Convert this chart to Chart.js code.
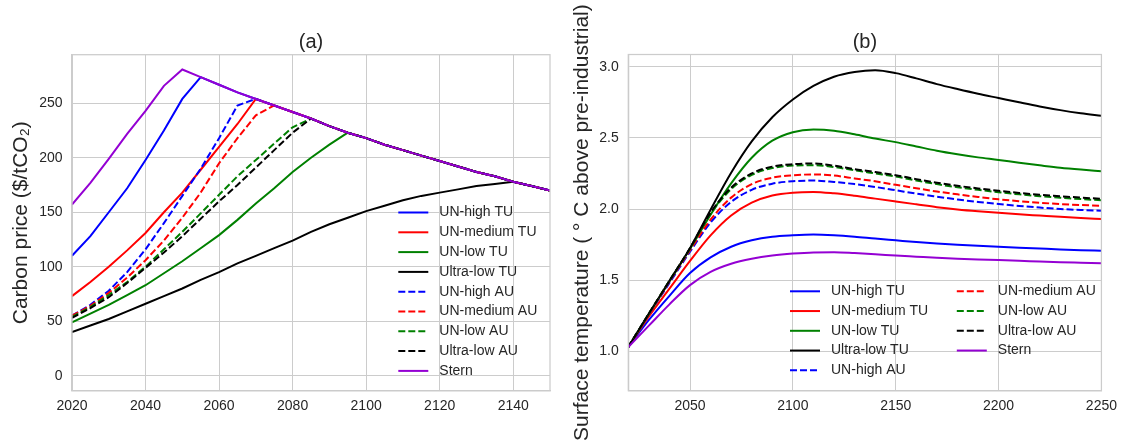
<!DOCTYPE html>
<html>
<head>
<meta charset="utf-8">
<script src="https://cdn.jsdelivr.net/npm/chart.js@4.4.1/dist/chart.umd.min.js"></script>
<style>
  body { margin: 0; background: #fff; }
  .box { position: absolute; top: 0; width: 562px; height: 440px; }
</style>
</head>
<body>
<div class="box" style="left:0"><canvas id="priceChart"></canvas></div>
<div class="box" style="left:562px"><canvas id="tempChart"></canvas></div>
<script>
// --- data (a): carbon price, 5-year steps ---
const yearsA = [2020, 2025, 2030, 2035, 2040, 2045, 2050, 2055, 2060, 2065, 2070, 2075, 2080, 2085,
                2090, 2095, 2100, 2105, 2110, 2115, 2120, 2125, 2130, 2135, 2140, 2145, 2150];
const sternA      = [157, 177, 199, 222, 243, 266, 281, 274, 267, 260, 254, 248, 242, 236, 229, 223, 218, 212, 207, 202, 197, 192, 187, 183, 178, 174, 170];
const unHighTuA   = [110, 128, 150, 172, 198, 225, 254, 274, 267, 260, 254, 248, 242, 236, 229, 223, 218, 212, 207, 202, 197, 192, 187, 183, 178, 174, 170];
const unMedTuA    = [73, 86, 100, 115, 131, 150, 168, 189, 210, 231, 254, 248, 242, 236, 229, 223, 218, 212, 207, 202, 197, 192, 187, 183, 178, 174, 170];
const unLowTuA    = [49, 57, 65, 74, 83, 94, 105, 117, 129, 143, 158, 172, 187, 200, 212, 223, 218, 212, 207, 202, 197, 192, 187, 183, 178, 174, 170];
const ultraLowTuA = [40, 46, 52, 59, 66, 73, 80, 88, 95, 103, 110, 117, 124, 132, 139, 145, 151, 156, 161, 165, 168, 171, 174, 176, 178, 174, 170];
const unHighAuA   = [55, 65, 78, 95, 116, 140, 165, 190, 218, 248, 254, 248, 242, 236, 229, 223, 218, 212, 207, 202, 197, 192, 187, 183, 178, 174, 170];
const unMedAuA    = [55, 64, 76, 90, 106, 124, 145, 168, 195, 218, 239, 248, 242, 236, 229, 223, 218, 212, 207, 202, 197, 192, 187, 183, 178, 174, 170];
const unLowAuA    = [54, 63, 74, 86, 100, 116, 132, 149, 166, 183, 198, 213, 228, 236, 229, 223, 218, 212, 207, 202, 197, 192, 187, 183, 178, 174, 170];
const ultraLowAuA = [53, 62, 72, 85, 99, 113, 128, 144, 160, 175, 191, 207, 223, 236, 229, 223, 218, 212, 207, 202, 197, 192, 187, 183, 178, 174, 170];

// --- data (b): surface temperature, 10-year steps ---
const yearsB = [2020, 2030, 2040, 2050, 2060, 2070, 2080, 2090, 2100, 2110, 2120, 2130,
                2140, 2150, 2160, 2170, 2180, 2190, 2200, 2210, 2220, 2230, 2240, 2250];
const unHighTuB   = [1.03, 1.22, 1.39, 1.55, 1.66, 1.735, 1.78, 1.805, 1.815, 1.82, 1.815, 1.805, 1.792, 1.78, 1.768, 1.757, 1.748, 1.741, 1.735, 1.728, 1.722, 1.716, 1.711, 1.707];
const unMedTuB    = [1.03, 1.245, 1.44, 1.635, 1.815, 1.955, 2.045, 2.095, 2.115, 2.12, 2.11, 2.093, 2.073, 2.053, 2.033, 2.013, 1.997, 1.984, 1.973, 1.963, 1.954, 1.945, 1.937, 1.93];
const unLowTuB    = [1.03, 1.26, 1.49, 1.72, 1.96, 2.18, 2.36, 2.48, 2.54, 2.558, 2.55, 2.525, 2.495, 2.47, 2.44, 2.41, 2.385, 2.363, 2.345, 2.325, 2.307, 2.29, 2.277, 2.266];
const ultraLowTuB = [1.03, 1.265, 1.495, 1.725, 1.995, 2.255, 2.475, 2.645, 2.77, 2.865, 2.93, 2.963, 2.975, 2.955, 2.918, 2.878, 2.843, 2.81, 2.78, 2.75, 2.721, 2.695, 2.673, 2.655];
const unHighAuB   = [1.03, 1.26, 1.48, 1.70, 1.905, 2.05, 2.135, 2.178, 2.195, 2.20, 2.19, 2.175, 2.155, 2.132, 2.108, 2.087, 2.067, 2.05, 2.035, 2.022, 2.01, 2.0, 1.993, 1.988];
const unMedAuB    = [1.03, 1.26, 1.49, 1.71, 1.925, 2.08, 2.175, 2.22, 2.237, 2.243, 2.235, 2.215, 2.195, 2.17, 2.146, 2.123, 2.103, 2.085, 2.068, 2.055, 2.044, 2.035, 2.028, 2.023];
const unLowAuB    = [1.03, 1.265, 1.495, 1.72, 1.965, 2.14, 2.24, 2.288, 2.305, 2.308, 2.295, 2.272, 2.25, 2.228, 2.20, 2.175, 2.153, 2.135, 2.118, 2.103, 2.09, 2.079, 2.07, 2.062];
const ultraLowAuB = [1.03, 1.265, 1.495, 1.725, 1.975, 2.15, 2.25, 2.298, 2.315, 2.32, 2.305, 2.28, 2.26, 2.238, 2.21, 2.185, 2.163, 2.145, 2.128, 2.113, 2.10, 2.09, 2.08, 2.072];
const sternB      = [1.03, 1.18, 1.33, 1.465, 1.558, 1.615, 1.65, 1.673, 1.687, 1.695, 1.696, 1.69, 1.682, 1.673, 1.665, 1.657, 1.65, 1.645, 1.641, 1.636, 1.631, 1.626, 1.622, 1.618];

const seriesNames = ['UN-high TU', 'UN-medium TU', 'UN-low TU', 'Ultra-low TU',
                     'UN-high AU', 'UN-medium AU', 'UN-low AU', 'Ultra-low AU', 'Stern'];
const seriesColors = ['#0000ff', '#ff0000', '#008000', '#000000',
                      '#0000ff', '#ff0000', '#008000', '#000000', '#9400d3'];
const seriesDashed = [false, false, false, false, true, true, true, true, false];

const gridColor = '#cccccc';
const textColor = '#262626';
const fontFamily = 'Arial, "Liberation Sans", sans-serif';
Chart.defaults.font.family = fontFamily;
Chart.defaults.color = textColor;

// build datasets, last one drawn on top like matplotlib
function makeDatasets(xs, lists, smooth) {
    return lists.map((ys, i) => ({
        label: seriesNames[i],
        data: xs.map((x, k) => ({ x: x, y: ys[k] })),
        borderColor: seriesColors[i],
        borderWidth: 2,
        borderDash: seriesDashed[i] ? [7, 3] : [],
        pointRadius: 0,
        fill: false,
        tension: 0,
        cubicInterpolationMode: smooth ? 'monotone' : 'default',
        order: lists.length - i
    }));
}

// frame round the plot area + panel title centred on the plot area
const framePlugin = {
    id: 'frame',
    afterDatasetsDraw(chart, args, opts) {
        const a = chart.chartArea;
        const ctx = chart.ctx;
        ctx.save();
        ctx.strokeStyle = gridColor;
        ctx.lineWidth = 1.25;
        ctx.strokeRect(a.left, a.top, a.right - a.left, a.bottom - a.top);
        ctx.fillStyle = textColor;
        ctx.font = '20px ' + fontFamily;
        ctx.textAlign = 'center';
        ctx.textBaseline = 'middle';
        ctx.fillText(opts.title, (a.left + a.right) / 2, 42);
        ctx.restore();
    }
};

// legend inside the plot, column after column
const innerLegend = {
    id: 'innerLegend',
    afterDraw(chart, args, opts) {
        const ctx = chart.ctx;
        ctx.save();
        ctx.font = '14px ' + fontFamily;
        ctx.textBaseline = 'middle';
        ctx.textAlign = 'left';
        chart.data.datasets.forEach((ds, i) => {
            const col = Math.floor(i / opts.rows);
            const row = i % opts.rows;
            const x0 = opts.x + col * opts.colW;
            const y = opts.y + row * opts.rowH;
            ctx.strokeStyle = ds.borderColor;
            ctx.lineWidth = 2;
            ctx.setLineDash(ds.borderDash);
            ctx.beginPath();
            ctx.moveTo(x0, y);
            ctx.lineTo(x0 + 30, y);
            ctx.stroke();
            ctx.setLineDash([]);
            ctx.fillStyle = textColor;
            ctx.fillText(ds.label, x0 + 41, y);
        });
        ctx.restore();
    }
};

function axisX(min, max, step, height) {
    return {
        type: 'linear', min: min, max: max,
        ticks: { stepSize: step, includeBounds: false, autoSkip: false, maxRotation: 0,
                 padding: 7, font: { size: 14 }, color: textColor, callback: v => String(v) },
        grid: { color: gridColor, lineWidth: 1, drawTicks: false },
        border: { color: gridColor, width: 1.25 },
        afterFit: s => { s.height = height; }
    };
}

function axisY(min, max, step, digits, width, label, titlePad) {
    return {
        type: 'linear', min: min, max: max,
        ticks: { stepSize: step, includeBounds: false, padding: 9.5, font: { size: 14 },
                 color: textColor, callback: v => v.toFixed(digits) },
        grid: { color: gridColor, lineWidth: 1, drawTicks: false },
        border: { color: gridColor, width: 1.25 },
        title: { display: true, text: label, font: { size: 21 }, color: textColor,
                 padding: { top: titlePad, bottom: 0 } },
        afterFit: s => { s.width = width; }
    };
}

new Chart(document.getElementById('priceChart'), {
    type: 'line',
    data: {
        datasets: makeDatasets(yearsA, [unHighTuA, unMedTuA, unLowTuA, ultraLowTuA,
            unHighAuA, unMedAuA, unLowAuA, ultraLowAuA, sternA], false)
    },
    options: {
        responsive: true,
        maintainAspectRatio: false,
        animation: false,
        layout: { padding: { left: 0, right: 12, top: 54.7, bottom: 0 } },
        plugins: {
            legend: { display: false },
            tooltip: { enabled: false },
            frame: { title: '(a)' },
            innerLegend: { x: 398.3, y: 212.5, rowH: 19.8, rows: 9, colW: 0 }
        },
        scales: {
            x: axisX(2020, 2150, 20, 49.3),
            y: axisY(-13.8, 294.6, 50, 0, 72, 'Carbon price ($/tCO\u2082)', 9)
        }
    },
    plugins: [framePlugin, innerLegend]
});

new Chart(document.getElementById('tempChart'), {
    type: 'line',
    data: {
        datasets: makeDatasets(yearsB, [unHighTuB, unMedTuB, unLowTuB, ultraLowTuB,
            unHighAuB, unMedAuB, unLowAuB, ultraLowAuB, sternB], true)
    },
    options: {
        responsive: true,
        maintainAspectRatio: false,
        animation: false,
        layout: { padding: { left: 0, right: 18, top: 54.5, bottom: 0 } },
        plugins: {
            legend: { display: false },
            tooltip: { enabled: false },
            frame: { title: '(b)' },
            innerLegend: { x: 228, y: 291.3, rowH: 19.75, rows: 5, colW: 166.8 }
        },
        scales: {
            x: axisX(2020, 2250, 50, 49.3),
            y: axisY(0.723, 3.086, 0.5, 1, 66.3, 'Surface temperature ( \u00b0 C above pre-industrial)', 8)
        }
    },
    plugins: [framePlugin, innerLegend]
});
</script>
</body>
</html>
